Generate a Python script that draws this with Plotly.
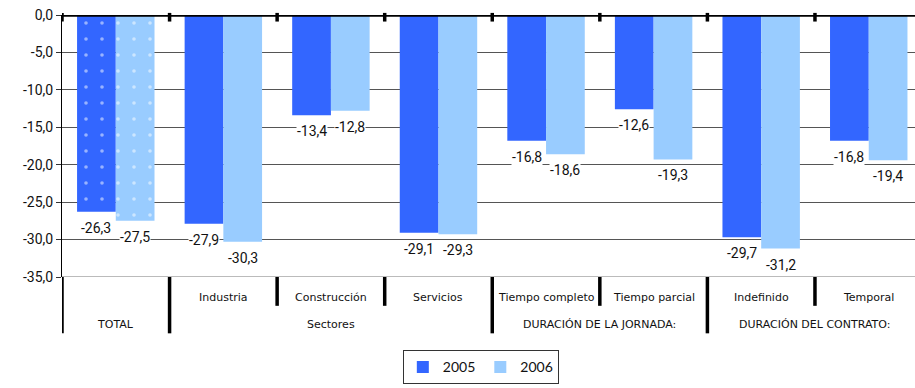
import plotly.graph_objects as go

# Category labels (first row under the axis) and the groups they belong to
categories = ["TOTAL", "Industria", "Construcción", "Servicios",
              "Tiempo completo", "Tiempo parcial", "Indefinido", "Temporal"]
row1_labels = ["", "Industria", "Construcción", "Servicios",
               "Tiempo completo", "Tiempo parcial", "Indefinido", "Temporal"]
groups = ["TOTAL", "Sectores", "DURACIÓN DE LA JORNADA:", "DURACIÓN DEL CONTRATO:"]
group_spans = [(0, 0), (1, 3), (4, 5), (6, 7)]

# Series values
v2005 = [-26.3, -27.9, -13.4, -29.1, -16.8, -12.6, -29.7, -16.8]
v2006 = [-27.5, -30.3, -12.8, -29.3, -18.6, -19.3, -31.2, -19.4]
years = ["2005", "2006"]

# Y axis ticks
y_ticks = [0, -5, -10, -15, -20, -25, -30, -35]

C2005 = "#3366FF"
C2006 = "#99CCFF"
NUM_FONT = "Roboto"
CAT_FONT = "DejaVu Sans"


def fmt(v):
    return f"{v:.1f}".replace(".", ",")


x = list(range(len(categories)))

fig = go.Figure()
for name, vals, col in [(years[0], v2005, C2005), (years[1], v2006, C2006)]:
    # TOTAL bar: dotted fill
    fig.add_trace(go.Bar(
        x=x[:1], y=vals[:1], name=name, offsetgroup=name, legendgroup=name,
        showlegend=False,
        marker=dict(color=col, line=dict(width=0),
                    pattern=dict(shape=".", fgcolor="white", bgcolor=col,
                                 size=16, solidity=0.04)),
        hoverinfo="skip",
    ))
    # remaining bars: solid fill
    fig.add_trace(go.Bar(
        x=x[1:], y=vals[1:], name=name, offsetgroup=name, legendgroup=name,
        marker=dict(color=col, line=dict(width=0)),
        hoverinfo="skip",
    ))

bar_w = 0.36
annotations = []
# value labels under each bar end
for off, vals in [(-bar_w / 2, v2005), (bar_w / 2, v2006)]:
    for i, v in enumerate(vals):
        annotations.append(dict(
            x=i + off, y=v, xref="x", yref="y", text=fmt(v),
            showarrow=False, yanchor="top", yshift=-7,
            font=dict(family=NUM_FONT, size=14, color="#111"),
            bgcolor="white", borderpad=0,
        ))

# category labels (row 1)
for i, lab in enumerate(row1_labels):
    if lab:
        annotations.append(dict(
            x=i, y=-0.077, xref="x", yref="paper", text=lab, showarrow=False,
            yanchor="middle", font=dict(family=CAT_FONT, size=11, color="#111"),
        ))
# group labels (row 2)
for g, (a, b) in zip(groups, group_spans):
    annotations.append(dict(
        x=(a + b) / 2, y=-0.18, xref="x", yref="paper", text=g, showarrow=False,
        yanchor="middle", font=dict(family=CAT_FONT, size=11, color="#111"),
    ))

shapes = []
# thick line along zero
shapes.append(dict(type="line", xref="paper", yref="y", x0=0, x1=1, y0=0, y1=0,
                   line=dict(color="black", width=3.5), layer="above"))
# knobs on the zero line at category boundaries
for i in range(len(categories)):
    shapes.append(dict(type="line", xref="x", yref="paper", x0=i - 0.5, x1=i - 0.5,
                       y0=1.008, y1=0.975, line=dict(color="black", width=3.5),
                       layer="above"))
# dividers below the axis: full height between groups, short inside groups
full = {-0.5, 0.5, 3.5, 5.5}
for i in range(len(categories)):
    b = i - 0.5
    y1 = -0.215 if b in full else -0.11
    shapes.append(dict(type="line", xref="x", yref="paper", x0=b, x1=b,
                       y0=0, y1=y1, line=dict(color="black", width=3.5)))
# bottom axis line
shapes.append(dict(type="line", xref="paper", yref="y", x0=0, x1=1, y0=-35, y1=-35,
                   line=dict(color="#777", width=1), layer="below"))

fig.update_layout(
    width=915, height=388,
    margin=dict(l=62, r=0, t=15, b=111),
    paper_bgcolor="white", plot_bgcolor="white",
    barmode="group", bargap=0.28, bargroupgap=0,
    showlegend=True,
    legend=dict(orientation="h", x=0.491, xanchor="center", y=-0.345, yanchor="middle",
                bgcolor="white", bordercolor="#333", borderwidth=1,
                font=dict(family="Lato", size=14, color="#111"),
                itemwidth=30, tracegroupgap=0),
    xaxis=dict(range=[-0.5, 7.43], showticklabels=False, showgrid=False,
               zeroline=False, showline=False, ticks="", fixedrange=True),
    yaxis=dict(range=[-35, 0], tickvals=y_ticks, ticktext=[fmt(t) for t in y_ticks],
               showgrid=True, gridcolor="#555", gridwidth=1, zeroline=False,
               showline=True, linecolor="black", linewidth=1,
               ticks="outside", ticklen=5, tickcolor="#333",
               tickfont=dict(family=NUM_FONT, size=14, color="#111")),
    annotations=annotations, shapes=shapes,
)

fig.write_html("out.html")
